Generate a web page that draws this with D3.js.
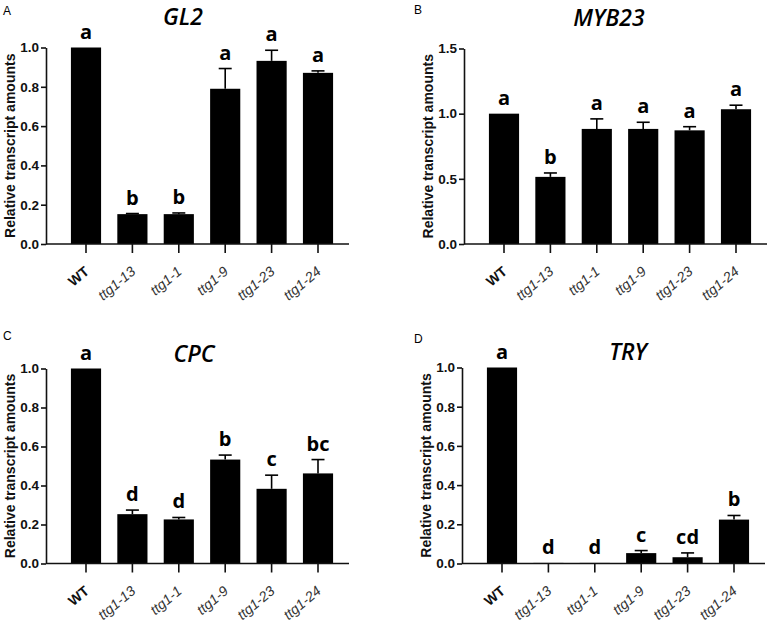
<!DOCTYPE html>
<html>
<head>
<meta charset="utf-8">
<script src="https://cdn.jsdelivr.net/npm/d3@7"></script>
<style>
  html, body { margin: 0; padding: 0; background: #fff; }
  svg { display: block; }
</style>
</head>
<body>
<svg id="chart" width="770" height="627"></svg>
<script>
// ---------- data ----------
const categories = ["WT", "ttg1-13", "ttg1-1", "ttg1-9", "ttg1-23", "ttg1-24"];

const gl2Values  = [1.0, 0.152, 0.152, 0.790, 0.932, 0.871];
const gl2Errors  = [0.0, 0.003, 0.006, 0.103, 0.054, 0.010];
const gl2Letters = ["a", "b", "b", "a", "a", "a"];

const myb23Values  = [1.0, 0.515, 0.883, 0.883, 0.872, 1.034];
const myb23Errors  = [0.0, 0.030, 0.077, 0.051, 0.028, 0.031];
const myb23Letters = ["a", "b", "a", "a", "a", "a"];

const cpcValues  = [1.0, 0.253, 0.226, 0.533, 0.383, 0.462];
const cpcErrors  = [0.0, 0.021, 0.010, 0.023, 0.070, 0.071];
const cpcLetters = ["a", "d", "d", "b", "c", "bc"];

const tryValues  = [1.0, 0.003, 0.003, 0.053, 0.032, 0.224];
const tryErrors  = [0.0, 0.000, 0.000, 0.013, 0.022, 0.021];
const tryLetters = ["a", "d", "d", "c", "cd", "b"];

const ticksUnit = [0, 0.2, 0.4, 0.6, 0.8, 1.0];
const ticksMyb  = [0, 0.5, 1.0, 1.5];

const yLabel = "Relative transcript amounts";

// ---------- layout ----------
const panels = [
  { tag: "A", title: "GL2",   values: gl2Values,   errors: gl2Errors,   letters: gl2Letters,   ticks: ticksUnit, fmt: ".1f",
    x0: 46,  yTop: 47.5,  yBot: 244,   tagX: 3,   tagY: 15,  titleX: 183, titleY: 25,  labX: 10 },
  { tag: "B", title: "MYB23", values: myb23Values, errors: myb23Errors, letters: myb23Letters, ticks: ticksMyb,  fmt: ".1f",
    x0: 464, yTop: 48.5,  yBot: 244,   tagX: 414, tagY: 14,  titleX: 609, titleY: 26,  labX: 428 },
  { tag: "C", title: "CPC",   values: cpcValues,   errors: cpcErrors,   letters: cpcLetters,   ticks: ticksUnit, fmt: ".1f",
    x0: 46,  yTop: 368.5, yBot: 563.5, tagX: 3,   tagY: 340, titleX: 194, titleY: 362, labX: 10 },
  { tag: "D", title: "TRY",   values: tryValues,   errors: tryErrors,   letters: tryLetters,   ticks: ticksUnit, fmt: ".1f",
    x0: 462, yTop: 367.5, yBot: 563.5, tagX: 414, tagY: 343, titleX: 628, titleY: 360, labX: 426 }
];

const svg = d3.select("#chart");
const AX = "#111";

panels.forEach(p => {
  const g = svg.append("g");
  const yMax = p.ticks[p.ticks.length - 1];
  const y = d3.scaleLinear().domain([0, yMax]).range([p.yBot, p.yTop]);
  const step = 46.4;
  const x = d3.scaleBand()
    .domain(categories)
    .range([p.x0 + 40 - step / 2, p.x0 + 40 + step * (categories.length - 0.5)])
    .paddingInner(0.35)
    .paddingOuter(0.175);
  const xEnd = p.x0 + 303;

  // bars
  g.selectAll("rect.bar").data(categories).join("rect")
    .attr("class", "bar")
    .attr("x", d => x(d))
    .attr("width", x.bandwidth())
    .attr("y", (d, i) => y(p.values[i]))
    .attr("height", (d, i) => Math.max(0.8, y(0) - y(p.values[i])))
    .attr("fill", "#000");

  // error bars (upper only)
  const capW = 13;
  categories.forEach((c, i) => {
    const e = p.errors[i];
    if (e <= 0) return;
    const cx = x(c) + x.bandwidth() / 2;
    g.append("line")
      .attr("x1", cx).attr("x2", cx)
      .attr("y1", y(p.values[i])).attr("y2", y(p.values[i] + e))
      .attr("stroke", "#000").attr("stroke-width", 1.6);
    g.append("line")
      .attr("x1", cx - capW / 2).attr("x2", cx + capW / 2)
      .attr("y1", y(p.values[i] + e)).attr("y2", y(p.values[i] + e))
      .attr("stroke", "#000").attr("stroke-width", 1.6);
  });

  // significance letters
  g.selectAll("text.sig").data(categories).join("text")
    .attr("class", "sig")
    .attr("x", d => x(d) + x.bandwidth() / 2)
    .attr("y", (d, i) => y(p.values[i] + p.errors[i]) - 9)
    .attr("text-anchor", "middle")
    .attr("font-family", "'Open Sans', sans-serif")
    .attr("font-weight", 700)
    .attr("font-size", 20)
    .attr("fill", "#000")
    .text((d, i) => p.letters[i]);

  // y axis
  const yAxis = d3.axisLeft(y).tickValues(p.ticks).tickFormat(d3.format(p.fmt)).tickSize(5).tickSizeOuter(0);
  const ya = g.append("g").attr("transform", `translate(${p.x0},0)`).call(yAxis);
  ya.select(".domain").attr("stroke", AX).attr("stroke-width", 1.6);
  ya.selectAll(".tick line").attr("stroke", AX).attr("stroke-width", 1.6);
  ya.selectAll(".tick text")
    .attr("font-family", "'Liberation Sans', Arial, sans-serif")
    .attr("font-weight", 700)
    .attr("font-size", 13.5)
    .attr("fill", "#111")
    .attr("x", -7);

  // x axis
  g.append("line")
    .attr("x1", p.x0).attr("x2", xEnd)
    .attr("y1", p.yBot).attr("y2", p.yBot)
    .attr("stroke", AX).attr("stroke-width", 1.6);
  const xAxis = d3.axisBottom(x).tickSize(9).tickSizeOuter(0);
  const xa = g.append("g").attr("transform", `translate(0,${p.yBot})`).call(xAxis);
  xa.select(".domain").remove();
  xa.selectAll(".tick line").attr("stroke", AX).attr("stroke-width", 1.6);
  xa.selectAll(".tick text")
    .attr("font-family", "'Liberation Sans', Arial, sans-serif")
    .attr("font-size", 14)
    .attr("font-weight", d => d === "WT" ? 700 : 400)
    .attr("font-style", d => d === "WT" ? "normal" : "italic")
    .attr("fill", d => d === "WT" ? "#111" : "#333")
    .attr("text-anchor", "end")
    .attr("y", 0).attr("dy", 0)
    .attr("transform", "translate(4,29) rotate(-40)");

  // y label
  g.append("text")
    .attr("transform", `translate(${p.labX},${(p.yTop + p.yBot) / 2}) rotate(-90)`)
    .attr("text-anchor", "middle")
    .attr("dominant-baseline", "central")
    .attr("font-family", "'Liberation Sans', Arial, sans-serif")
    .attr("font-weight", 700)
    .attr("font-size", 14)
    .attr("fill", "#111")
    .text(yLabel);

  // title
  g.append("text")
    .attr("x", p.titleX).attr("y", p.titleY)
    .attr("text-anchor", "middle")
    .attr("font-family", "'Open Sans', sans-serif")
    .attr("font-style", "italic")
    .attr("font-weight", 600)
    .attr("font-size", 23)
    .attr("fill", "#000")
    .text(p.title);

  // panel tag
  g.append("text")
    .attr("x", p.tagX).attr("y", p.tagY)
    .attr("font-family", "'Liberation Sans', Arial, sans-serif")
    .attr("font-size", 12)
    .attr("fill", "#000")
    .text(p.tag);
});
</script>
</body>
</html>
